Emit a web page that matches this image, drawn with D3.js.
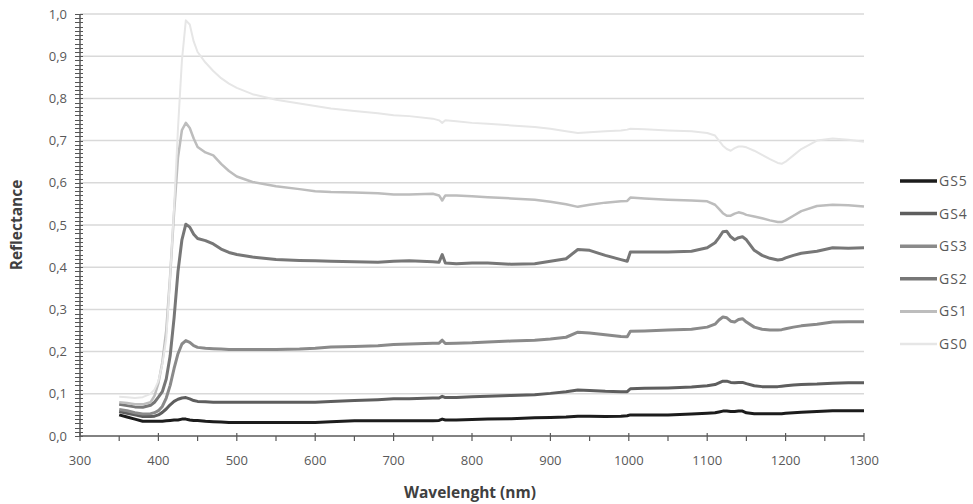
<!DOCTYPE html>
<html>
<head>
<meta charset="utf-8">
<script src="https://cdn.jsdelivr.net/npm/d3@7"></script>
<style>
   body { margin: 0; background: #fff; }
   text { font-family: "Open Sans", "Noto Sans", sans-serif; }
</style>
</head>
<body>
<div class="chart"></div>
<script>
// wavelengths (nm) shared by all series
var wavelengths = [350, 360, 370, 380, 390, 395, 400, 405, 410, 415,
   420, 425, 430, 435, 440, 445, 450, 460, 470, 480,
   490, 500, 520, 550, 580, 600, 620, 650, 680, 700,
   720, 750, 758, 762, 766, 780, 800, 820, 850, 880,
   900, 920, 935, 950, 970, 990, 998, 1002, 1020, 1050,
   1080, 1100, 1110, 1115, 1120, 1125, 1130, 1135, 1140, 1145,
   1150, 1160, 1170, 1180, 1190, 1195, 1200, 1210, 1220, 1240,
   1260, 1280, 1300];

var gs0 = [.093, .092, .090, .092, .100, .110, .130, .170, .230, .380,
   .540, .730, .890, .985, .975, .935, .910, .885, .865, .848,
   .835, .825, .810, .797, .788, .782, .776, .770, .765, .760,
   .758, .752, .748, .742, .748, .746, .742, .740, .736, .732,
   .728, .722, .718, .720, .722, .724, .726, .728, .727, .724,
   .722, .718, .712, .700, .688, .680, .676, .682, .686, .686,
   .684, .676, .666, .656, .647, .645, .650, .665, .680, .700,
   .705, .702, .697];

var gs1 = [.080, .078, .075, .075, .080, .095, .125, .175, .250, .380,
   .530, .660, .725, .742, .730, .705, .685, .672, .665, .645,
   .628, .615, .602, .592, .585, .580, .578, .577, .575, .572,
   .572, .574, .570, .558, .570, .570, .568, .566, .563, .560,
   .555, .549, .543, .548, .553, .556, .557, .565, .563, .560,
   .558, .556, .548, .538, .528, .522, .522, .527, .530, .528,
   .524, .520, .516, .511, .507, .507, .511, .522, .533, .545,
   .548, .547, .544];

var gs2 = [.075, .072, .069, .068, .073, .080, .092, .105, .135, .190,
   .280, .390, .465, .502, .495, .478, .468, .463, .455, .443,
   .435, .430, .424, .418, .416, .415, .414, .413, .412, .414,
   .415, .413, .412, .430, .410, .408, .410, .410, .407, .408,
   .414, .420, .442, .440, .428, .418, .414, .436, .436, .436,
   .438, .446, .458, .470, .484, .485, .472, .465, .470, .472,
   .465, .440, .428, .421, .417, .418, .422, .428, .433, .438,
   .446, .445, .446];

var gs3 = [.063, .060, .055, .052, .053, .055, .060, .070, .090, .120,
   .160, .195, .218, .226, .222, .214, .210, .208, .207, .206,
   .205, .205, .205, .205, .206, .208, .211, .212, .214, .217,
   .218, .220, .220, .227, .219, .220, .221, .223, .225, .227,
   .230, .234, .246, .244, .240, .236, .235, .248, .249, .251,
   .253, .258, .265, .275, .282, .280, .272, .270, .276, .278,
   .270, .258, .253, .251, .251, .252, .254, .258, .261, .265,
   .270, .271, .271];

var gs4 = [.058, .054, .050, .046, .046, .047, .050, .056, .064, .074,
   .082, .087, .090, .091, .088, .084, .082, .081, .080, .080,
   .080, .080, .080, .080, .080, .080, .082, .084, .086, .088,
   .088, .090, .090, .094, .091, .091, .093, .094, .096, .098,
   .101, .105, .109, .108, .106, .105, .105, .112, .113, .114,
   .116, .119, .122, .126, .130, .130, .127, .126, .127, .127,
   .124, .119, .117, .117, .117, .118, .119, .121, .122, .123,
   .125, .126, .126];

var gs5 = [.050, .045, .040, .035, .035, .035, .035, .035, .036, .037,
   .038, .038, .040, .040, .038, .037, .037, .035, .034, .033,
   .032, .032, .032, .032, .032, .032, .034, .036, .036, .036,
   .036, .036, .037, .040, .038, .038, .039, .040, .041, .043,
   .044, .045, .047, .047, .046, .047, .048, .050, .050, .050,
   .052, .054, .055, .057, .059, .059, .058, .058, .059, .059,
   .055, .053, .053, .053, .053, .053, .054, .055, .056, .058,
   .060, .060, .060];

var seriesNames = ["GS5", "GS4", "GS3", "GS2", "GS1", "GS0"];
var seriesValues = [gs5, gs4, gs3, gs2, gs1, gs0];
var seriesColors = ["#1c1c1c", "#5e5e5e", "#8a8a8a", "#777777", "#bdbdbd", "#e6e6e6"];
var seriesWidths = [3, 3, 3, 3, 2.5, 2];

var xTicks = [300, 400, 500, 600, 700, 800, 900, 1000, 1100, 1200, 1300];
var yTicks = [0, 0.1, 0.2, 0.3, 0.4, 0.5, 0.6, 0.7, 0.8, 0.9, 1.0];

var width = 973, height = 504;
var margin = { top: 14, right: 109, bottom: 68, left: 80 };

var svg = d3.select(".chart").append("svg")
   .attr("width", width)
   .attr("height", height);

var x = d3.scaleLinear()
   .domain([300, 1300])
   .range([margin.left, width - margin.right]);

var y = d3.scaleLinear()
   .domain([0, 1])
   .range([height - margin.bottom, margin.top]);

var fmt = d => d3.format(".1f")(d).replace(".", ",");

// gridlines
svg.append("g")
   .selectAll("line")
   .data(yTicks.slice(1))
   .enter()
   .append("line")
   .attr("x1", x(300))
   .attr("x2", x(1300))
   .attr("y1", d => y(d))
   .attr("y2", d => y(d))
   .style("stroke", "#d9d9d9")
   .style("stroke-width", 1.5);

// y axis with minor ticks every 0.01
var yMinor = d3.range(0, 101).map(i => i / 100);
svg.append("g")
   .selectAll("line")
   .data(yMinor)
   .enter()
   .append("line")
   .attr("x1", x(300) - 5)
   .attr("x2", x(300) + 3)
   .attr("y1", d => Math.round(y(d)) + 0.5)
   .attr("y2", d => Math.round(y(d)) + 0.5)
   .style("stroke", "#555")
   .style("stroke-width", 1);

svg.append("line")
   .attr("x1", x(300))
   .attr("x2", x(300))
   .attr("y1", y(0))
   .attr("y2", y(1))
   .style("stroke", "#595959")
   .style("stroke-width", 1.5);

svg.append("g")
   .selectAll("text")
   .data(yTicks)
   .enter()
   .append("text")
   .attr("x", x(300) - 13)
   .attr("y", d => y(d))
   .attr("dy", "0.35em")
   .style("text-anchor", "end")
   .style("font-size", "13px")
   .style("fill", "#595959")
   .text(fmt);

// x axis, ticks every 50 nm
var xMinor = d3.range(300, 1301, 50);
svg.append("g")
   .selectAll("line")
   .data(xMinor)
   .enter()
   .append("line")
   .attr("x1", d => x(d))
   .attr("x2", d => x(d))
   .attr("y1", d => y(0) - (d % 100 == 0 ? 3 : 0))
   .attr("y2", y(0) + 5)
   .style("stroke", "#595959")
   .style("stroke-width", 1.2);

svg.append("line")
   .attr("x1", x(300))
   .attr("x2", x(1300))
   .attr("y1", y(0))
   .attr("y2", y(0))
   .style("stroke", "#595959")
   .style("stroke-width", 1.5);

svg.append("g")
   .selectAll("text")
   .data(xTicks)
   .enter()
   .append("text")
   .attr("x", d => x(d))
   .attr("y", y(0) + 29)
   .style("text-anchor", "middle")
   .style("font-size", "13px")
   .style("fill", "#595959")
   .text(d => d);

// axis titles
svg.append("text")
   .attr("transform", `translate(22, ${(y(0) + y(1)) / 2}) rotate(-90)`)
   .style("text-anchor", "middle")
   .style("font-size", "15.5px")
   .style("font-weight", "bold")
   .style("fill", "#404040")
   .text("Reflectance");

svg.append("text")
   .attr("x", 470)
   .attr("y", 498)
   .style("text-anchor", "middle")
   .style("font-size", "15.5px")
   .style("font-weight", "bold")
   .style("fill", "#404040")
   .text("Wavelenght (nm)");

// spectra, lightest drawn last so the top curve sits above
var line = d3.line()
   .x((d, i) => x(wavelengths[i]))
   .y(d => y(d));

var order = [0, 1, 2, 3, 4, 5];
svg.append("g")
   .selectAll("path")
   .data(order)
   .enter()
   .append("path")
   .attr("d", i => line(seriesValues[i]))
   .style("fill", "none")
   .style("stroke", i => seriesColors[i])
   .style("stroke-width", i => seriesWidths[i])
   .style("stroke-linejoin", "round");

// legend
var legend = svg.append("g")
   .selectAll("g")
   .data(seriesNames)
   .enter()
   .append("g")
   .attr("transform", (d, i) => `translate(900, ${181 + i * 32.6})`);

legend.append("line")
   .attr("x1", 0)
   .attr("x2", 37)
   .style("stroke", (d, i) => seriesColors[i])
   .style("stroke-width", (d, i) => seriesWidths[i] + 0.5);

legend.append("text")
   .attr("x", 39)
   .attr("dy", "0.35em")
   .style("font-size", "14px")
   .style("letter-spacing", "1px")
   .style("fill", "#595959")
   .text(d => d);
</script>
</body>
</html>
